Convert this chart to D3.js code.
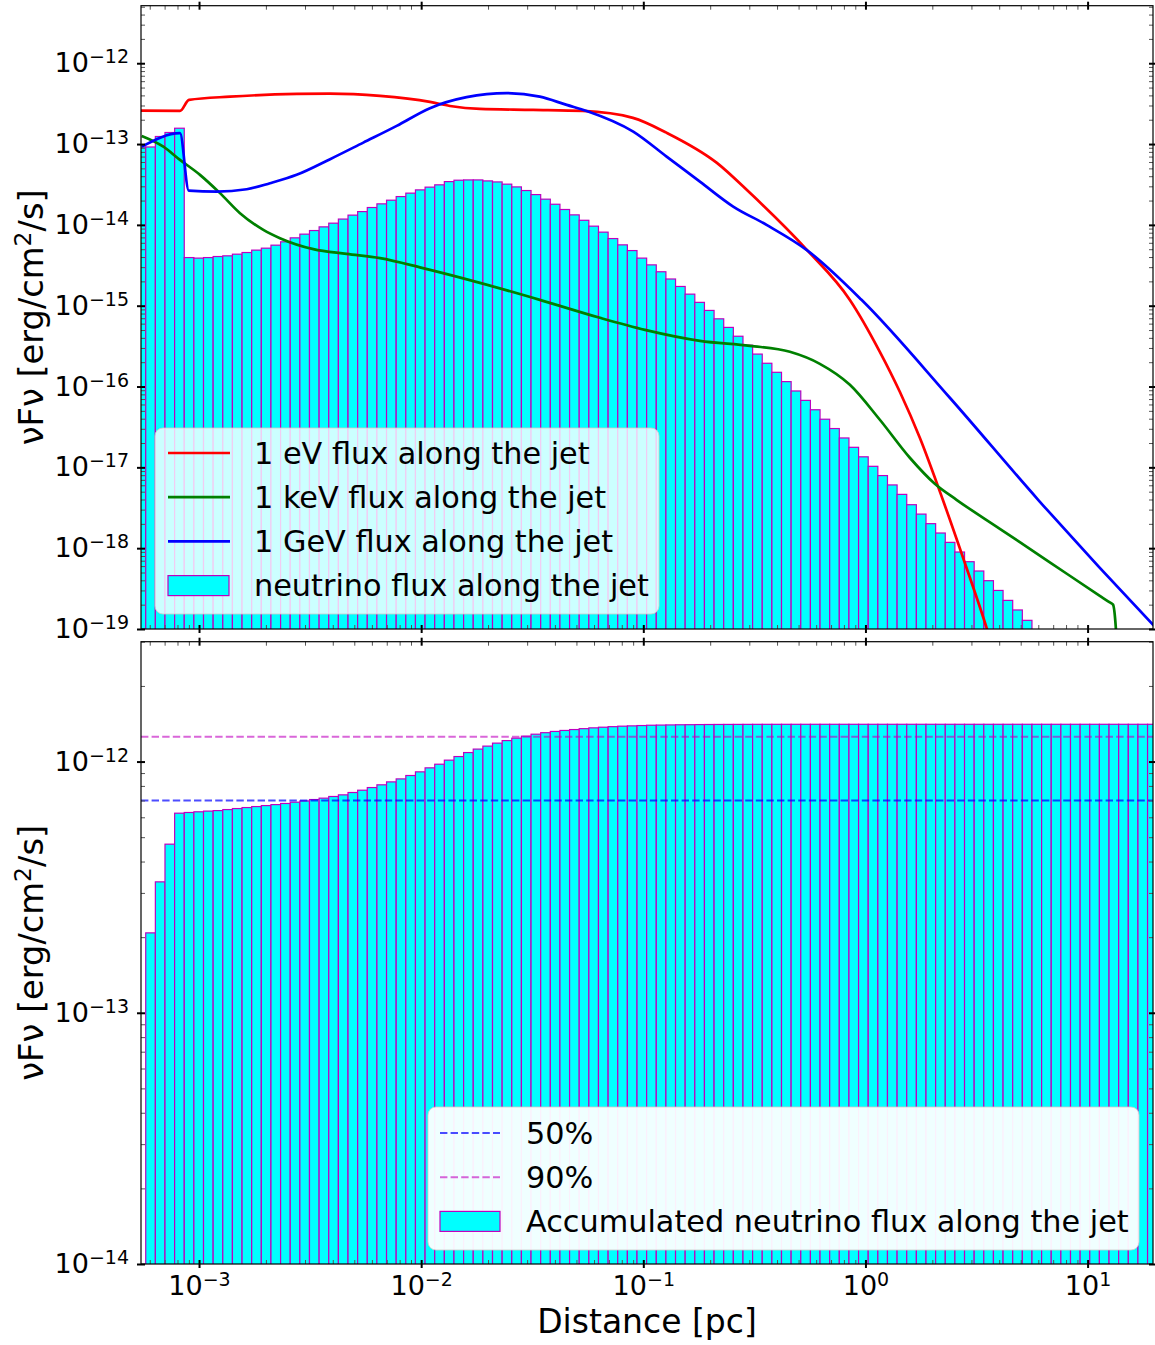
<!DOCTYPE html>
<html>
<head>
<meta charset="utf-8">
<script src="https://cdn.jsdelivr.net/npm/d3@7"></script>
<style>
  body { margin: 0; background: #fff; }
  text { font-family: "DejaVu Sans", sans-serif; }
</style>
</head>
<body>
<div id="chart"></div>
<script>
// axis limits [pc] and [erg/cm2/s]
var xRange = [5.48e-4, 19.7];
var yTopRange = [1e-19, 5.15e-12];
var yBotRange = [1e-14, 3.0e-12];
var xMajor = [1e-3, 1e-2, 1e-1, 1, 10];
var yTopMajor = [1e-19, 1e-18, 1e-17, 1e-16, 1e-15, 1e-14, 1e-13, 1e-12];
var yBotMajor = [1e-14, 1e-13, 1e-12];

// 1 eV flux along the jet
var evX = [5.48e-4, 8.21e-4, 9.02e-4, 1.379e-3, 2.76e-3, 3.89e-3, 6.53e-3, 1.095e-2, 1.348e-2, 1.839e-2,
  3.19e-2, 5.35e-2, 8.98e-2, 0.1277, 0.2144, 0.3018, 0.5448, 0.851, 1.161, 1.428, 1.757, 2.23, 2.80, 3.52, 3.82];
var evY = [2.59e-13, 2.57e-13, 3.52e-13, 3.86e-13, 4.17e-13, 4.21e-13, 3.94e-13, 3.32e-13, 2.96e-13, 2.72e-13,
  2.65e-13, 2.57e-13, 2.11e-13, 1.374e-13, 5.85e-14, 2.49e-14, 4.91e-15, 1.18e-15, 2.69e-16, 8.61e-17, 2.32e-17,
  3.97e-18, 6.61e-19, 1.01e-19, 4.81e-20];

// 1 keV flux along the jet
var kevX = [5.52e-4, 6.91e-4, 8.21e-4, 1.010e-3, 1.243e-3, 1.529e-3, 1.948e-3, 2.314e-3, 3.27e-3, 4.62e-3,
  6.53e-3, 1.008e-2, 1.839e-2, 3.42e-2, 6.38e-2, 0.1017, 0.1798, 0.3018, 0.4568, 0.6233, 0.851, 1.161, 1.584,
  2.052, 2.57, 4.027, 6.76, 11.35, 12.59, 13.02, 13.40, 13.47];
var kevY = [1.262e-13, 9.30e-14, 6.37e-14, 4.16e-14, 2.47e-14, 1.396e-14, 8.68e-15, 6.85e-15, 5.01e-15, 4.38e-15,
  3.88e-15, 2.94e-15, 1.919e-15, 1.182e-15, 7.08e-16, 5.03e-16, 3.68e-16, 3.19e-16, 2.69e-16, 1.91e-16, 1.051e-16,
  3.88e-17, 1.315e-17, 6.27e-18, 3.97e-18, 1.736e-18, 6.69e-19, 2.57e-19, 2.13e-19, 2.00e-19, 1.04e-19, 8.4e-20];

// 1 GeV flux along the jet
var gevX = [5.52e-4, 8.21e-4, 8.99e-4, 1.201e-3, 1.639e-3, 2.087e-3, 2.75e-3, 3.89e-3, 5.49e-3, 7.76e-3,
  1.095e-2, 1.602e-2, 2.43e-2, 3.42e-2, 4.52e-2, 5.56e-2, 9.01e-2, 0.1273, 0.1798, 0.2539, 0.3588, 0.543, 0.960,
  2.398, 5.99, 19.72, 21.1];
var gevY = [9.30e-14, 1.362e-13, 2.66e-14, 2.58e-14, 2.76e-14, 3.28e-14, 4.16e-14, 6.50e-14, 1.042e-13, 1.678e-13,
  2.78e-13, 3.80e-13, 4.26e-13, 3.86e-13, 3.05e-13, 2.57e-13, 1.426e-13, 7.00e-14, 3.43e-14, 1.685e-14, 1.0e-14,
  4.91e-15, 1.182e-15, 7.26e-17, 3.97e-18, 1.13e-19, 9.3e-20];

// log-spaced distance bins: left edge of bin 0 and bins per decade
var binStart = 5.208e-4;
var binsPerDecade = 23.06;

// neutrino flux per bin (bins 0..92)
var nuFlux = [9.2e-14, 9.2e-14, 1.24e-13, 1.39e-13, 1.57e-13,
  3.94e-15, 3.88e-15, 3.94e-15, 4.06e-15, 4.14e-15, 4.34e-15, 4.55e-15, 4.87e-15, 5.15e-15, 5.61e-15,
  6.17e-15, 6.91e-15, 7.68e-15, 8.51e-15, 9.45e-15,
  1.05e-14, 1.18e-14, 1.32e-14, 1.46e-14, 1.64e-14, 1.82e-14, 2.02e-14, 2.24e-14, 2.47e-14, 2.71e-14,
  2.93e-14, 3.13e-14, 3.43e-14, 3.57e-14, 3.60e-14, 3.60e-14, 3.50e-14, 3.40e-14, 3.19e-14, 2.95e-14,
  2.66e-14, 2.37e-14, 2.08e-14, 1.80e-14, 1.55e-14, 1.33e-14, 1.14e-14, 9.64e-15, 8.13e-15, 6.77e-15,
  5.66e-15, 4.81e-15, 3.88e-15, 3.20e-15, 2.63e-15, 2.14e-15, 1.73e-15, 1.39e-15, 1.10e-15, 8.74e-16,
  6.88e-16, 5.39e-16, 4.19e-16, 3.25e-16, 2.52e-16, 1.94e-16, 1.50e-16, 1.15e-16, 8.81e-17, 6.74e-17,
  5.16e-17, 3.94e-17, 3.02e-17, 2.31e-17, 1.77e-17, 1.35e-17, 1.03e-17, 7.91e-18, 6.06e-18, 4.63e-18,
  3.45e-18, 2.64e-18, 2.01e-18, 1.54e-18, 1.18e-18, 8.96e-19, 6.80e-19, 5.22e-19, 3.96e-19, 3.00e-19,
  2.26e-19, 1.72e-19, 1.28e-19];

// accumulated neutrino flux per bin (bins 0..105)
var nuAccum = [null, 2.08e-13, 3.32e-13, 4.69e-13, 6.23e-13, 6.27e-13, 6.31e-13, 6.35e-13, 6.38e-13, 6.44e-13,
  6.50e-13, 6.56e-13, 6.62e-13, 6.68e-13, 6.74e-13, 6.81e-13, 6.89e-13, 6.97e-13, 7.06e-13, 7.15e-13,
  7.26e-13, 7.37e-13, 7.53e-13, 7.69e-13, 7.88e-13, 8.08e-13, 8.30e-13, 8.53e-13, 8.80e-13, 9.10e-13,
  9.44e-13, 9.76e-13, 1.013e-12, 1.047e-12, 1.086e-12, 1.121e-12, 1.152e-12, 1.184e-12, 1.212e-12, 1.239e-12,
  1.262e-12, 1.285e-12, 1.303e-12, 1.318e-12, 1.330e-12, 1.341e-12, 1.352e-12, 1.362e-12, 1.370e-12, 1.377e-12,
  1.383e-12, 1.387e-12, 1.391e-12, 1.395e-12, 1.397e-12, 1.399e-12, 1.401e-12, 1.402e-12, 1.4035e-12, 1.4044e-12,
  1.4051e-12, 1.4056e-12, 1.4060e-12, 1.4063e-12, 1.4066e-12, 1.4068e-12, 1.4069e-12, 1.4070e-12, 1.4071e-12, 1.4071e-12,
  1.4072e-12, 1.4072e-12, 1.4072e-12, 1.4072e-12, 1.4072e-12, 1.4072e-12, 1.4072e-12, 1.4072e-12, 1.4072e-12, 1.4072e-12,
  1.4072e-12, 1.4072e-12, 1.4072e-12, 1.4072e-12, 1.4072e-12, 1.4072e-12, 1.4072e-12, 1.4072e-12, 1.4072e-12, 1.4072e-12,
  1.4072e-12, 1.4072e-12, 1.4072e-12, 1.4072e-12, 1.4072e-12, 1.4072e-12, 1.4072e-12, 1.4072e-12, 1.4072e-12, 1.4072e-12,
  1.4072e-12, 1.4072e-12, 1.4072e-12, 1.4072e-12, 1.4072e-12, 1.4072e-12];

// 50% and 90% of the total accumulated flux
var levels = [7.0e-13, 1.255e-12];

var topLegend = ["1 eV flux along the jet", "1 keV flux along the jet", "1 GeV flux along the jet", "neutrino flux along the jet"];
var botLegend = ["50%", "90%", "Accumulated neutrino flux along the jet"];

var width = 1155, height = 1345;
var left = 141, right = 1153;
var topY0 = 5.7, topY1 = 629, botY0 = 641.7, botY1 = 1264;

var svg = d3.select("#chart")
  .append("svg")
    .attr("width", width)
    .attr("height", height);

var x = d3.scaleLog().domain(xRange).range([left, right]);
var yT = d3.scaleLog().domain(yTopRange).range([topY1, topY0]);
var yB = d3.scaleLog().domain(yBotRange).range([botY1, botY0]);

function binEdge(i) { return binStart * Math.pow(10, i / binsPerDecade); }

function minors(domain) {
  var out = [];
  var lo = Math.floor(Math.log10(domain[0])), hi = Math.ceil(Math.log10(domain[1]));
  for (var e = lo; e <= hi; e++) {
    for (var m = 2; m < 10; m++) {
      var v = m * Math.pow(10, e);
      if (v >= domain[0] && v <= domain[1]) out.push(v);
    }
  }
  return out;
}

var defs = svg.append("defs");
defs.append("clipPath").attr("id", "clipTop")
  .append("rect").attr("x", left).attr("y", topY0).attr("width", right - left).attr("height", topY1 - topY0);
defs.append("clipPath").attr("id", "clipBot")
  .append("rect").attr("x", left).attr("y", botY0).attr("width", right - left).attr("height", botY1 - botY0);

// ---------- top panel ----------
var topPlot = svg.append("g").attr("clip-path", "url(#clipTop)");

topPlot.append("g")
  .selectAll("rect")
  .data(nuFlux)
  .enter()
  .append("rect")
    .attr("x", function (d, i) { return x(binEdge(i)); })
    .attr("width", function (d, i) { return x(binEdge(i + 1)) - x(binEdge(i)); })
    .attr("y", function (d) { return yT(d); })
    .attr("height", function (d) { return topY1 + 5 - yT(d); })
    .style("fill", "#00ffff")
    .style("stroke", "#bf00bf")
    .style("stroke-width", 1.2);

var line = d3.line()
  .x(function (d) { return x(d[0]); })
  .y(function (d) { return yT(d[1]); })
  .curve(d3.curveMonotoneX);

var curves = [
  {xs: evX, ys: evY, color: "#ff0000"},
  {xs: kevX, ys: kevY, color: "#008000"},
  {xs: gevX, ys: gevY, color: "#0000ff"}
];
curves.forEach(function (c) {
  topPlot.append("path")
    .datum(d3.zip(c.xs, c.ys))
    .attr("d", line)
    .style("fill", "none")
    .style("stroke", c.color)
    .style("stroke-width", 2.7)
    .style("stroke-linejoin", "round");
});

// ---------- bottom panel ----------
var botPlot = svg.append("g").attr("clip-path", "url(#clipBot)");

botPlot.append("g")
  .selectAll("rect")
  .data(nuAccum.map(function (d, i) { return {v: d, i: i}; }).filter(function (d) { return d.v != null; }))
  .enter()
  .append("rect")
    .attr("x", function (d) { return x(binEdge(d.i)); })
    .attr("width", function (d) { return x(binEdge(d.i + 1)) - x(binEdge(d.i)); })
    .attr("y", function (d) { return yB(d.v); })
    .attr("height", function (d) { return botY1 + 5 - yB(d.v); })
    .style("fill", "#00ffff")
    .style("stroke", "#bf00bf")
    .style("stroke-width", 1.2);

var levelColors = [["#0000ff", 0.7], ["#bf00bf", 0.6]];
botPlot.selectAll("line.level")
  .data(levels)
  .enter()
  .append("line")
    .attr("class", "level")
    .attr("x1", left).attr("x2", right)
    .attr("y1", function (d) { return yB(d); })
    .attr("y2", function (d) { return yB(d); })
    .style("stroke", function (d, i) { return levelColors[i][0]; })
    .style("stroke-opacity", function (d, i) { return levelColors[i][1]; })
    .style("stroke-width", 2)
    .style("stroke-dasharray", "7.4,3.2");

// ---------- axes ----------
function styleAxis(g) {
  g.select(".domain").remove();
  g.attr("font-family", null).attr("font-size", null);
}

function supLabels(g) {
  g.selectAll(".tick text").each(function (d) {
    var t = d3.select(this);
    var e = Math.round(Math.log10(d));
    t.text(null).style("font-size", "27px").style("fill", "#000");
    t.append("tspan").text("10");
    t.append("tspan").attr("dy", -9).style("font-size", "19px").text(e < 0 ? "\u2212" + (-e) : String(e));
  });
}

function majorTicks(axis, pos) {
  var g = svg.append("g").attr("transform", pos).call(axis);
  styleAxis(g);
  g.selectAll(".tick line").style("stroke", "#000").style("stroke-width", 2);
  return g;
}

function minorTicks(axis, pos) {
  var g = svg.append("g").attr("transform", pos).call(axis.tickSize(-4).tickFormat(""));
  styleAxis(g);
  g.selectAll(".tick line").style("stroke", "#555").style("stroke-width", 1);
  g.selectAll(".tick text").remove();
}

var xMin = minors(xRange);
// top panel
var g1 = majorTicks(d3.axisTop(x).tickValues(xMajor).tickSize(4).tickFormat(""), "translate(0," + topY0 + ")");
g1.selectAll(".tick line").attr("y1", 4);
var g2 = majorTicks(d3.axisBottom(x).tickValues(xMajor).tickSize(4).tickFormat(""), "translate(0," + topY1 + ")");
g2.selectAll(".tick line").attr("y1", -4);
minorTicks(d3.axisTop(x).tickValues(xMin), "translate(0," + topY0 + ")");
minorTicks(d3.axisBottom(x).tickValues(xMin), "translate(0," + topY1 + ")");

var g3 = majorTicks(d3.axisLeft(yT).tickValues(yTopMajor).tickSize(4).tickPadding(8), "translate(" + left + ",0)");
g3.selectAll(".tick line").attr("x1", 4);
supLabels(g3);
var g4 = majorTicks(d3.axisRight(yT).tickValues(yTopMajor).tickSize(4).tickFormat(""), "translate(" + right + ",0)");
g4.selectAll(".tick line").attr("x1", -4);
minorTicks(d3.axisLeft(yT).tickValues(minors(yTopRange)), "translate(" + left + ",0)");
minorTicks(d3.axisRight(yT).tickValues(minors(yTopRange)), "translate(" + right + ",0)");

// bottom panel
var g5 = majorTicks(d3.axisTop(x).tickValues(xMajor).tickSize(4).tickFormat(""), "translate(0," + botY0 + ")");
g5.selectAll(".tick line").attr("y1", 4);
var g6 = majorTicks(d3.axisBottom(x).tickValues(xMajor).tickSize(4).tickPadding(7.5), "translate(0," + botY1 + ")");
g6.selectAll(".tick line").attr("y1", -4);
supLabels(g6);
minorTicks(d3.axisTop(x).tickValues(xMin), "translate(0," + botY0 + ")");
minorTicks(d3.axisBottom(x).tickValues(xMin), "translate(0," + botY1 + ")");

var g7 = majorTicks(d3.axisLeft(yB).tickValues(yBotMajor).tickSize(4).tickPadding(8), "translate(" + left + ",0)");
g7.selectAll(".tick line").attr("x1", 4);
supLabels(g7);
var g8 = majorTicks(d3.axisRight(yB).tickValues(yBotMajor).tickSize(4).tickFormat(""), "translate(" + right + ",0)");
g8.selectAll(".tick line").attr("x1", -4);
minorTicks(d3.axisLeft(yB).tickValues(minors(yBotRange)), "translate(" + left + ",0)");
minorTicks(d3.axisRight(yB).tickValues(minors(yBotRange)), "translate(" + right + ",0)");

// spines
[[topY0, topY1], [botY0, botY1]].forEach(function (p) {
  svg.append("rect")
    .attr("x", left).attr("y", p[0])
    .attr("width", right - left).attr("height", p[1] - p[0])
    .style("fill", "none")
    .style("stroke", "#000")
    .style("stroke-width", 1.2);
});

// axis labels
function yLabel(cy) {
  var t = svg.append("text")
    .attr("transform", "translate(43," + cy + ") rotate(-90)")
    .attr("text-anchor", "middle")
    .style("font-size", "33.7px");
  t.append("tspan").text("\u03bdF\u03bd [erg/cm");
  t.append("tspan").attr("dy", -12).style("font-size", "23.5px").text("2");
  t.append("tspan").attr("dy", 12).text("/s]");
}
yLabel((topY0 + topY1) / 2);
yLabel((botY0 + botY1) / 2);

svg.append("text")
  .attr("x", (left + right) / 2)
  .attr("y", 1333)
  .attr("text-anchor", "middle")
  .style("font-size", "33px")
  .text("Distance [pc]");

// ---------- legends ----------
var legT = svg.append("g");
legT.append("rect")
  .attr("x", 155).attr("y", 428).attr("width", 504).attr("height", 186).attr("rx", 8)
  .style("fill", "#fff").style("fill-opacity", 0.8)
  .style("stroke", "#ccc").style("stroke-opacity", 0.8);
topLegend.forEach(function (label, i) {
  var cy = 453 + i * 44.2;
  if (i < 3) {
    legT.append("line")
      .attr("x1", 168).attr("x2", 230).attr("y1", cy).attr("y2", cy)
      .style("stroke", curves[i].color).style("stroke-width", 2.7);
  } else {
    legT.append("rect")
      .attr("x", 168).attr("y", cy - 10).attr("width", 61).attr("height", 20)
      .style("fill", "#00ffff").style("stroke", "#bf00bf").style("stroke-width", 1.2);
  }
  legT.append("text")
    .attr("x", 254).attr("y", cy + 10.5)
    .style("font-size", "30.3px")
    .text(label);
});

var legB = svg.append("g");
legB.append("rect")
  .attr("x", 428).attr("y", 1107).attr("width", 711).attr("height", 143).attr("rx", 8)
  .style("fill", "#fff").style("fill-opacity", 0.94)
  .style("stroke", "#ccc").style("stroke-opacity", 0.8);
botLegend.forEach(function (label, i) {
  var cy = 1133 + i * 44.2;
  if (i < 2) {
    legB.append("line")
      .attr("x1", 440).attr("x2", 500).attr("y1", cy).attr("y2", cy)
      .style("stroke", levelColors[i][0]).style("stroke-opacity", levelColors[i][1])
      .style("stroke-width", 2).style("stroke-dasharray", "7.4,3.2");
  } else {
    legB.append("rect")
      .attr("x", 440).attr("y", cy - 10).attr("width", 60).attr("height", 20)
      .style("fill", "#00ffff").style("stroke", "#bf00bf").style("stroke-width", 1.2);
  }
  legB.append("text")
    .attr("x", 526).attr("y", cy + 10.5)
    .style("font-size", "30.3px")
    .text(label);
});
</script>
</body>
</html>
